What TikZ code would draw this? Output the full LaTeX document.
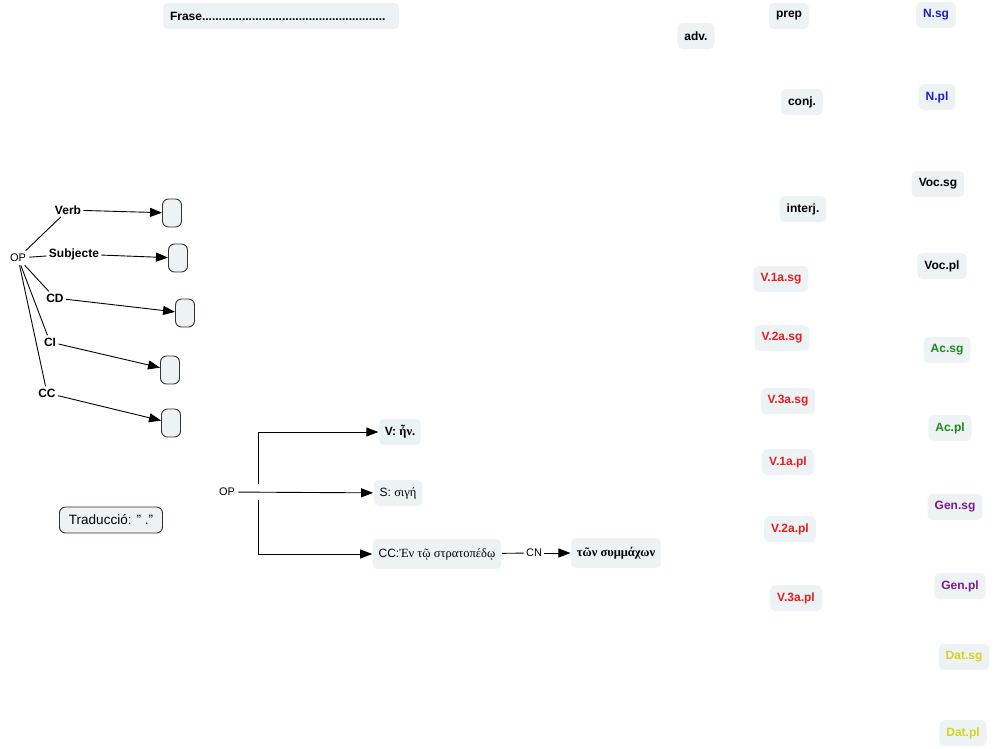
\documentclass[tikz,border=0pt]{standalone}
\usepackage{fontspec}
\setmainfont{Liberation Sans}
\newfontfamily\grfont{Liberation Serif}
\usetikzlibrary{arrows.meta,positioning}
\definecolor{boxfill}{RGB}{237,243,245}
\definecolor{caseblue}{RGB}{30,30,200}
\definecolor{verbred}{RGB}{232,28,28}
\definecolor{accgreen}{RGB}{26,138,26}
\definecolor{genpurple}{RGB}{122,26,138}
\definecolor{datyellow}{RGB}{212,212,26}
\definecolor{edgegray}{RGB}{50,50,50}

\begin{document}
\begin{tikzpicture}[x=1pt,y=-1pt,line width=0.9pt,
  word/.style={fill=boxfill, rounded corners=5pt, inner xsep=7pt, minimum height=26pt, font=\fontsize{12}{14}\selectfont\bfseries},
  slot/.style={draw=edgegray, fill=boxfill, rounded corners=6pt, minimum width=19pt, minimum height=28pt},
  lbl/.style={font=\fontsize{12}{14}\selectfont\bfseries, inner sep=2pt},
  plain/.style={font=\fontsize{11}{13}\selectfont, inner sep=3pt},
  link/.style={-{Triangle[length=12pt,width=9pt]}}]
  \useasboundingbox (0,0) rectangle (994,748);

  % title
  \node[word, text width=222pt, align=left] (frase) at (281,16) {Frase.......................................................};

  % word classes
  \node[word] (prep) at (789,16) {prep};
  \node[word] (adv) at (696,36) {adv.};
  \node[word] (conj) at (802,102) {conj.};
  \node[word] (interj) at (803,209) {interj.};
  \node[word, text=verbred] (v1sg) at (781,279) {V.1a.sg};
  \node[word, text=verbred] (v2sg) at (782,338) {V.2a.sg};
  \node[word, text=verbred] (v3sg) at (788,401) {V.3a.sg};
  \node[word, text=verbred] (v1pl) at (788,462) {V.1a.pl};
  \node[word, text=verbred] (v2pl) at (790,529) {V.2a.pl};
  \node[word, text=verbred] (v3pl) at (796,598) {V.3a.pl};

  % cases
  \node[word, text=caseblue] (nsg) at (936,15) {N.sg};
  \node[word, text=caseblue] (npl) at (937,97) {N.pl};
  \node[word] (vocsg) at (938,184) {Voc.sg};
  \node[word] (vocpl) at (942,266) {Voc.pl};
  \node[word, text=accgreen] (acsg) at (947,350) {Ac.sg};
  \node[word, text=accgreen] (acpl) at (950,428) {Ac.pl};
  \node[word, text=genpurple] (gensg) at (955,507) {Gen.sg};
  \node[word, text=genpurple] (genpl) at (960,586) {Gen.pl};
  \node[word, text=datyellow] (datsg) at (964,657) {Dat.sg};
  \node[word, text=datyellow] (datpl) at (963,733) {Dat.pl};

  % empty sentence scheme
  \node[plain] (opA) at (18,258) {OP};
  \node[lbl] (verbL) at (68,210) {Verb};
  \node[lbl] (subjL) at (74,254) {Subjecte};
  \node[lbl] (cdL) at (55,298) {CD};
  \node[lbl] (ciL) at (50,342) {CI};
  \node[lbl] (ccL) at (47,393) {CC};
  \node[slot] (slotA) at (172,213) {};
  \node[slot] (slotB) at (178,258) {};
  \node[slot] (slotC) at (185,313) {};
  \node[slot] (slotD) at (170,370) {};
  \node[slot] (slotE) at (171,423) {};
  \draw (opA) -- (verbL);
  \draw (opA) -- (subjL);
  \draw (opA) -- (cdL);
  \draw (opA) -- (ciL);
  \draw (opA) -- (ccL);
  \draw[link] (verbL) -- (slotA);
  \draw[link] (subjL) -- (slotB);
  \draw[link] (cdL) -- (slotC);
  \draw[link] (ciL) -- (slotD);
  \draw[link] (ccL) -- (slotE);

  \node[draw=edgegray, fill=boxfill, rounded corners=6pt, minimum width=103pt, minimum height=26pt,
    font=\fontsize{13.5}{15}\selectfont] (trad) at (111,520) {Traducció: " ."};

  % analysed sentence
  \node[plain] (opB) at (227,492) {OP};
  \coordinate (fork) at (258,492);
  \node[word, font=\fontsize{12}{14}\selectfont\bfseries, inner xsep=6pt] (vB) at (400,432) {V: {\grfont\fontsize{12.5}{14}\selectfont ἦν.}};
  \node[word, font=\fontsize{12}{14}\selectfont, inner xsep=6pt] (sB) at (398,493) {S: {\grfont\fontsize{12.5}{14}\selectfont σιγή}};
  \node[word, font=\fontsize{12}{14}\selectfont, inner xsep=6pt, minimum height=30pt] (ccB) at (437,554) {CC:{\grfont\fontsize{12.5}{14}\selectfont Ἐν τῷ στρατοπέδῳ}};
  \node[plain, inner sep=2pt] (cnB) at (534,553) {CN};
  \node[word, font=\fontsize{12.5}{14}\selectfont\bfseries\grfont, inner xsep=6pt, minimum height=30pt] (symB) at (616,553) {τῶν συμμάχων};
  \draw[link] (opB) -- (sB);
  \draw[link] ([yshift=8pt]fork) |- (vB);
  \draw[link] ([yshift=-8pt]fork) |- (ccB);
  \draw (ccB) -- (cnB);
  \draw[link] (cnB) -- (symB);
\end{tikzpicture}
\end{document}
